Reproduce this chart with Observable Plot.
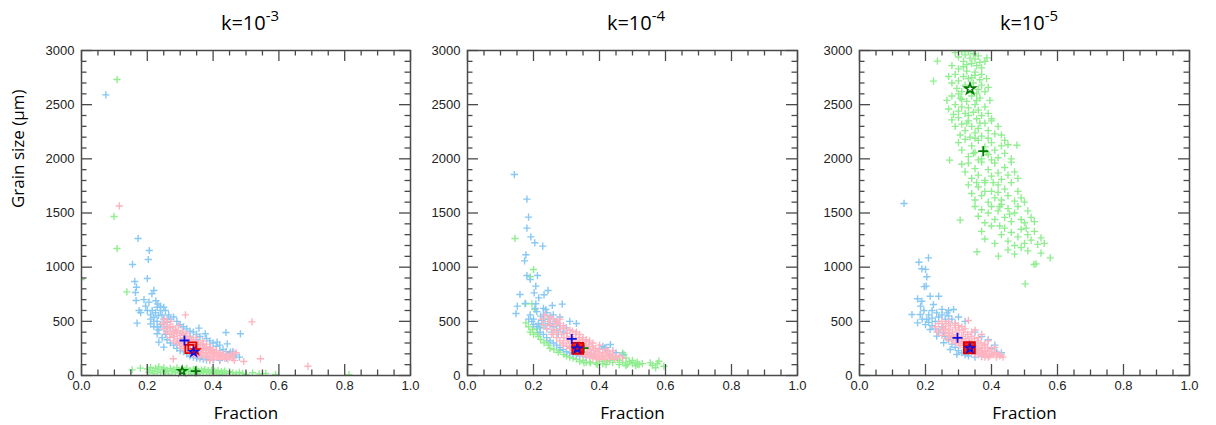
<!DOCTYPE html>
<html><head><meta charset="utf-8">
<script src="https://cdn.jsdelivr.net/npm/d3@7"></script>
<script src="https://cdn.jsdelivr.net/npm/@observablehq/plot@0.6"></script>
<style>
body{margin:0;background:#fff;}
#wrap{position:relative;width:1216px;height:425px;overflow:hidden;background:#fff;}
.panel{position:absolute;top:0;}
.title{position:absolute;top:13px;font-family:"Open Sans",sans-serif;font-size:20px;line-height:20px;color:#000;transform:translateX(-50%);white-space:nowrap;}
.title .sup{font-size:15px;position:relative;top:-9px;}
</style></head><body><div id="wrap"></div>
<script>
// ---- titles / axes ----
const titleBase = ["k=10", "k=10", "k=10"];
const titleExp = ["-3", "-4", "-5"];
const xLabel = "Fraction";
const yLabel = "Grain size (\u00b5m)";
const xTicks = [0, 0.2, 0.4, 0.6, 0.8, 1.0];
const xMinorTicks = [0.05,0.1,0.15,0.25,0.3,0.35,0.45,0.5,0.55,0.65,0.7,0.75,0.85,0.9,0.95];
const yTicks = [0, 500, 1000, 1500, 2000, 2500, 3000];
const yMinorTicks = [100,200,300,400,600,700,800,900,1100,1200,1300,1400,1600,1700,1800,1900,2100,2200,2300,2400,2600,2700,2800,2900];

// ---- panel 1 (k=1e-3) ----
const blue1 = [[0.074,2590],[0.172,1265],[0.206,1154],[0.203,1071],[0.155,1025],[0.20,895],[0.162,868],[0.167,815],[0.164,766],[0.22,785],[0.214,754],[0.166,692],[0.175,600],[0.205,677],[0.20,600],[0.169,483],[0.21,477],[0.23,630],[0.25,630],[0.234,554],[0.22,538],[0.26,523],[0.439,397],[0.483,385],[0.357,437],[0.376,385],[0.412,308],[0.443,292],[0.453,215],[0.235,308],[0.23,385],[0.25,262],
[0.215,600],[0.225,580],[0.24,600],[0.245,560],[0.21,560],[0.23,500],[0.24,470],[0.22,450],[0.25,450],[0.26,490],[0.27,520],[0.235,420],[0.245,350],[0.26,330],[0.255,380],[0.27,300],[0.28,280],[0.29,250],[0.30,230],[0.31,220],[0.32,200],[0.33,180],[0.34,170],[0.35,160],[0.36,155],[0.37,150],[0.38,145],[0.39,150],[0.40,145],[0.42,140],[0.44,160],[0.46,180],[0.45,200],[0.43,240],[0.41,270],[0.40,300],[0.39,320],[0.38,340],[0.36,360],[0.34,400],[0.32,430],[0.30,470],[0.29,500],[0.28,540],[0.265,560],[0.255,600],[0.24,640],[0.232,660],[0.226,690],[0.19,700],[0.195,640],[0.18,580],[0.21,520],[0.27,440],[0.28,360],[0.29,290],[0.30,390],[0.31,340],[0.33,360],[0.35,330],[0.37,290],[0.39,260],[0.42,230],[0.44,220],[0.47,190],[0.48,170],[0.36,180],[0.38,170],
[0.23,450],[0.22,500],[0.25,520],[0.26,410],[0.31,450],[0.33,410],[0.35,380],[0.42,280],[0.46,220]];
const pink1 = [[0.245,480],[0.25,430],[0.252,520],[0.258,390],[0.26,470],[0.262,440],[0.268,350],[0.27,410],[0.272,500],[0.275,380],[0.278,450],[0.28,320],[0.282,360],[0.285,420],[0.288,300],[0.29,390],[0.292,340],[0.295,460],[0.298,280],[0.30,370],[0.302,320],[0.305,250],[0.306,410],[0.31,300],[0.312,350],[0.315,270],[0.318,390],[0.32,230],[0.322,320],[0.325,290],[0.328,360],[0.33,250],[0.332,210],[0.335,330],[0.338,280],[0.34,240],[0.342,300],[0.345,190],[0.348,350],[0.35,260],[0.352,220],[0.355,300],[0.358,180],[0.36,240],[0.362,280],[0.365,200],[0.368,320],[0.37,230],[0.372,170],[0.375,260],[0.378,210],[0.38,290],[0.382,180],[0.385,240],[0.388,200],[0.39,160],[0.392,260],[0.395,220],[0.398,180],[0.40,240],[0.402,150],[0.405,200],[0.41,230],[0.412,170],[0.415,190],[0.42,210],[0.422,150],[0.425,180],[0.43,200],[0.435,160],[0.44,185],[0.445,150],[0.45,170],[0.455,190],[0.46,160],[0.465,140],
[0.30,300],[0.31,270],[0.32,340],[0.33,300],[0.34,320],[0.35,280],[0.36,210],[0.37,280],[0.33,230],[0.31,380],[0.29,410],[0.27,450],[0.34,200],[0.28,400],[0.26,500],[0.32,260],[0.35,240],[0.36,260],[0.38,250],[0.40,210],[0.42,170],[0.44,200],
[0.115,1565],[0.316,560],[0.518,495],[0.463,209],[0.493,129],[0.544,154],[0.688,86],[0.279,154],[0.47,210],[0.39,140]];
const green1 = [[0.108,2732],[0.099,1468],[0.108,1172],[0.138,772],[0.0,885],
[0.154,52],[0.179,68],[0.20,60],[0.205,30],[0.21,75],[0.215,45],[0.22,20],[0.225,65],[0.23,40],[0.235,80],[0.24,25],[0.245,55],[0.25,70],[0.255,35],[0.26,50],[0.265,15],[0.27,65],[0.275,40],[0.28,55],[0.285,25],[0.29,70],[0.295,45],[0.30,30],[0.305,60],[0.31,20],[0.315,50],[0.32,65],[0.325,35],[0.33,45],[0.335,15],[0.34,55],[0.345,30],[0.35,60],[0.355,40],[0.36,20],[0.365,50],[0.37,35],[0.375,55],[0.38,25],[0.385,45],[0.39,30],[0.395,50],[0.40,20],[0.405,40],[0.41,30],[0.415,45],[0.42,15],[0.425,35],[0.43,25],[0.435,40],[0.44,20],[0.45,35],[0.46,25],[0.47,15],[0.48,30],[0.49,20],[0.50,10],[0.52,25],[0.54,15],[0.56,20],[0.59,10],[0.813,8]];

// ---- panel 2 (k=1e-4) ----
const blue2 = [[0.142,1855],[0.18,1628],[0.185,1462],[0.18,1360],[0.192,1280],[0.204,1225],[0.228,1194],[0.177,1114],[0.173,1058],[0.18,923],[0.19,886],[0.212,923],[0.207,825],[0.159,748],[0.202,763],[0.232,745],[0.244,785],[0.151,640],[0.147,572],[0.176,665],[0.216,717],[0.257,646],[0.287,659],[0.207,662],[0.237,609],[0.222,548],[0.252,548],
[0.19,560],[0.20,520],[0.21,590],[0.215,480],[0.22,440],[0.225,510],[0.23,560],[0.235,470],[0.24,430],[0.245,520],[0.25,480],[0.255,400],[0.26,450],[0.265,500],[0.27,420],[0.275,380],[0.28,460],[0.29,400],[0.30,440],[0.23,380],[0.24,350],[0.25,320],[0.26,300],[0.27,280],[0.28,260],[0.29,240],[0.30,220],[0.31,210],[0.32,200],[0.33,190],[0.34,180],[0.36,170],[0.38,180],[0.40,250],[0.41,270],[0.42,260],[0.433,286],[0.416,255],[0.44,230],[0.45,210],[0.43,200],[0.47,190],[0.22,400],[0.21,450],[0.20,470],[0.195,500],[0.185,520],[0.23,620],[0.24,580],[0.205,620],[0.26,560],[0.28,540],[0.31,500],[0.33,480]];
const pink2 = [[0.225,520],[0.23,470],[0.235,560],[0.24,430],[0.245,500],[0.25,460],[0.255,380],[0.26,520],[0.262,420],[0.265,470],[0.27,350],[0.272,400],[0.275,480],[0.28,320],[0.282,430],[0.285,380],[0.29,300],[0.292,350],[0.295,440],[0.30,270],[0.302,390],[0.305,320],[0.31,250],[0.312,360],[0.315,300],[0.318,410],[0.32,230],[0.322,330],[0.325,280],[0.328,380],[0.33,220],[0.332,310],[0.335,260],[0.338,350],[0.34,200],[0.342,290],[0.345,240],[0.348,330],[0.35,190],[0.352,270],[0.355,220],[0.358,310],[0.36,180],[0.362,250],[0.365,210],[0.368,290],[0.37,170],[0.372,240],[0.375,200],[0.378,270],[0.38,160],[0.382,230],[0.385,190],[0.388,250],[0.39,170],[0.392,220],[0.395,150],[0.398,200],[0.40,240],[0.405,170],[0.41,210],[0.415,150],[0.42,190],[0.425,220],[0.43,160],[0.435,180],[0.44,200],[0.445,150],[0.45,170],[0.46,180],[0.47,160],
[0.34,380],[0.36,330],[0.38,300],[0.40,280],[0.31,420],[0.29,460],[0.27,500],[0.25,540],[0.28,520],[0.33,400],[0.35,350],[0.37,320],[0.42,240],[0.44,230],[0.30,350],[0.32,320],[0.34,300],[0.36,270],[0.26,380],[0.29,280],[0.31,260],[0.33,240],[0.35,210],[0.37,190],[0.39,190],[0.41,180],[0.43,190]];
const green2 = [[0.144,1265],[0.2,978],[0.19,911],[0.174,662],[0.195,662],[0.204,609],[0.177,486],[0.19,400],
[0.197,425],[0.212,394],[0.222,332],[0.232,302],[0.245,280],[0.262,240],[0.275,215],[0.292,194],[0.31,170],[0.33,150],[0.35,140],[0.37,125],[0.39,115],[0.41,110],[0.20,380],[0.215,360],[0.24,320],[0.21,430],[0.185,450],[0.225,470],[0.23,520],[0.25,250],[0.28,230],[0.30,180],[0.32,160],[0.34,130],[0.36,120],
[0.353,117],[0.373,117],[0.393,102],[0.423,132],[0.433,178],[0.454,148],[0.474,194],[0.484,102],[0.514,123],[0.554,117],[0.58,132],[0.595,86],[0.57,71],[0.44,120],[0.45,180],[0.46,140],[0.47,120],[0.48,160],[0.49,130],[0.50,110],[0.51,90],[0.52,100],[0.50,140],[0.53,110],[0.42,100],[0.40,130],[0.46,100],[0.48,90],[0.44,160],[0.47,210],[0.50,120],[0.515,105],[0.43,140],[0.41,150],[0.56,95],[0.575,110]];

// ---- panel 3 (k=1e-5) ----
const blue3 = [[0.135,1588],[0.209,1086],[0.18,1046],[0.189,985],[0.204,911],[0.202,825],[0.176,708],[0.189,686],[0.214,732],[0.24,732],[0.224,655],[0.159,563],[0.184,563],[0.176,486],[0.204,517],[0.234,578],[0.265,578],[0.285,609],[0.214,425],[0.234,363],[0.255,302],[0.275,240],[0.295,194],[0.255,394],
[0.185,640],[0.195,600],[0.21,560],[0.22,530],[0.23,500],[0.24,540],[0.25,560],[0.26,520],[0.27,550],[0.28,520],[0.29,480],[0.21,490],[0.22,460],[0.23,430],[0.24,400],[0.25,450],[0.26,360],[0.27,330],[0.28,290],[0.29,260],[0.30,230],[0.31,210],[0.32,190],[0.33,180],[0.35,170],[0.37,175],[0.20,470],[0.19,520],[0.25,610],[0.22,600],[0.27,600],[0.30,540],[0.32,500],[0.35,400],[0.37,360],[0.39,330],[0.41,280],[0.40,250],[0.43,210],[0.416,215],[0.196,820],[0.2,980]];
const pink3 = [[0.23,450],[0.235,400],[0.24,480],[0.245,420],[0.25,370],[0.255,450],[0.26,400],[0.262,480],[0.265,340],[0.27,420],[0.272,370],[0.275,460],[0.28,320],[0.282,400],[0.285,350],[0.29,440],[0.292,300],[0.295,380],[0.30,330],[0.302,420],[0.305,280],[0.31,360],[0.312,310],[0.315,400],[0.32,260],[0.322,340],[0.325,290],[0.328,380],[0.33,240],[0.332,320],[0.335,270],[0.338,360],[0.34,220],[0.342,300],[0.345,250],[0.348,340],[0.35,200],[0.352,280],[0.355,230],[0.358,320],[0.36,190],[0.362,260],[0.365,210],[0.368,300],[0.37,180],[0.372,250],[0.375,200],[0.378,280],[0.38,170],[0.382,230],[0.385,190],[0.388,260],[0.39,170],[0.392,220],[0.395,180],[0.40,240],[0.405,190],[0.41,210],[0.415,170],[0.42,200],[0.425,180],[0.43,190],[0.435,170],
[0.33,508],[0.31,450],[0.29,480],[0.27,500],[0.35,420],[0.37,380],[0.39,320],[0.41,260],[0.36,350],[0.34,400],[0.38,290],[0.32,430],[0.30,460],[0.25,500],[0.28,360],[0.30,300],[0.32,280],[0.34,260],[0.36,240],[0.38,220],[0.40,200],[0.33,300],[0.35,260],[0.37,230],[0.31,330],[0.29,350],[0.27,390],[0.26,430]];
const green3 = [[0.29,2980],[0.30,2940],[0.31,2990],[0.315,2900],[0.32,2960],[0.325,2870],[0.33,2990],[0.335,2930],[0.34,2880],[0.345,2970],[0.35,2920],[0.355,2860],[0.36,2950],[0.365,2890],[0.37,2840],[0.38,2900],[0.236,2902],[0.386,2932],[0.28,2860],[0.30,2830],[0.325,2810],[0.35,2800],[0.37,2780],
[0.27,2760],[0.28,2700],[0.29,2780],[0.295,2650],[0.30,2720],[0.31,2620],[0.315,2760],[0.32,2680],[0.33,2740],[0.34,2610],[0.345,2700],[0.35,2770],[0.36,2640],[0.365,2730],[0.37,2680],[0.38,2620],[0.385,2740],[0.39,2660],[0.224,2717],[0.30,2600],[0.355,2600],
[0.265,2540],[0.27,2460],[0.28,2580],[0.285,2410],[0.29,2500],[0.30,2440],[0.305,2560],[0.31,2480],[0.32,2420],[0.325,2530],[0.33,2470],[0.34,2580],[0.345,2430],[0.35,2500],[0.36,2450],[0.365,2560],[0.37,2400],[0.38,2480],[0.39,2420],[0.40,2370],[0.395,2540],[0.33,2400],
[0.28,2360],[0.29,2300],[0.30,2380],[0.305,2220],[0.31,2320],[0.32,2260],[0.33,2350],[0.335,2200],[0.34,2300],[0.35,2240],[0.355,2370],[0.36,2280],[0.37,2210],[0.38,2330],[0.39,2260],[0.40,2350],[0.41,2230],[0.42,2300],[0.43,2220],[0.477,2126],[0.44,2170],
[0.30,2150],[0.31,2080],[0.32,2180],[0.33,2020],[0.34,2120],[0.35,2060],[0.36,2170],[0.37,2000],[0.38,2110],[0.39,2040],[0.40,2150],[0.41,2080],[0.42,2010],[0.43,2120],[0.44,2050],[0.45,2130],[0.46,2000],[0.35,2190],[0.39,2190],
[0.273,1988],[0.31,1950],[0.32,1880],[0.33,1960],[0.34,1820],[0.35,1910],[0.36,1850],[0.37,1970],[0.38,1800],[0.39,1900],[0.40,1840],[0.41,1960],[0.42,1870],[0.43,1810],[0.44,1920],[0.45,1850],[0.46,1970],[0.47,1880],[0.48,1820],[0.36,1990],[0.40,1990],
[0.33,1760],[0.34,1680],[0.35,1620],[0.36,1740],[0.37,1660],[0.38,1780],[0.39,1600],[0.40,1700],[0.41,1640],[0.42,1760],[0.43,1620],[0.44,1720],[0.45,1660],[0.46,1780],[0.47,1610],[0.48,1700],[0.49,1640],[0.50,1600],[0.38,1700],[0.42,1690],
[0.305,1434],[0.35,1560],[0.36,1470],[0.37,1530],[0.38,1410],[0.39,1500],[0.40,1560],[0.41,1440],[0.42,1520],[0.43,1580],[0.44,1460],[0.45,1540],[0.46,1420],[0.47,1500],[0.48,1560],[0.49,1440],[0.50,1410],[0.51,1520],[0.52,1460],[0.53,1420],
[0.37,1330],[0.38,1260],[0.40,1380],[0.41,1220],[0.43,1300],[0.44,1360],[0.45,1240],[0.46,1320],[0.47,1200],[0.48,1280],[0.49,1350],[0.50,1220],[0.51,1300],[0.52,1250],[0.53,1330],[0.54,1210],[0.55,1270],[0.56,1220],[0.356,1142],[0.421,1102],
[0.45,1160],[0.47,1120],[0.49,1180],[0.51,1150],[0.529,1025],[0.578,1086],[0.502,846],[0.535,1030],[0.55,1130],
[0.315,2850],[0.34,2750],[0.31,2550],[0.355,2540],[0.325,2330],[0.365,2330],[0.345,2050],[0.385,2060],[0.355,1780],[0.405,1780],[0.425,1560],[0.455,1490],[0.425,1380],[0.505,1360]];

// ---- summary markers, one entry list per panel ----
const redSquares = [[[0.328,245],[0.337,268]], [[0.334,251]], [[0.333,256]]];
const redStars = [[[0.347,231]], [[0.336,255]], [[0.333,262]]];
const blueStars = [[[0.341,215]], [[0.332,248]], [[0.335,250]]];
const bluePlus = [[[0.313,323]], [[0.316,338]], [[0.297,348]]];
const greenStars = [[[0.306,40]], [[0.333,246]], [[0.335,2646]]];
const greenPlus = [[[0.347,40]], [[0.352,253]], [[0.375,2071]]];

const blues = [blue1, blue2, blue3], pinks = [pink1, pink2, pink3], greens = [green1, green2, green3];

// ---- layout ----
const panels = [
  {left: 0, width: 420, ml: 81, mr: 10, tx: 250},
  {left: 410, width: 400, ml: 57, mr: 13, tx: 636},
  {left: 810, width: 406, ml: 49, mr: 27, tx: 1029}
];
const MT = 50, MB = 50, H = 425;
const LIGHT_BLUE = "#87c8f5", PINK = "#ffb3c0", LIGHT_GREEN = "#90ee90";
const AXIS = "#4a4a4a";
const plusSym = {draw(ctx, size) { const r = Math.sqrt(size / Math.PI); ctx.moveTo(-r, 0); ctx.lineTo(r, 0); ctx.moveTo(0, -r); ctx.lineTo(0, r); }};

const wrap = document.getElementById("wrap");
panels.forEach((p, i) => {
  const fw = p.width - p.ml - p.mr, fh = H - MT - MB;
  const X = d => d[0], Y = d => d[1];
  const cloud = (data, color) => Plot.dot(data, {x: X, y: Y, symbol: plusSym, r: 3.6, stroke: color, fill: "none", strokeWidth: 1.4, clip: true});
  const marks = [
    cloud(greens[i], LIGHT_GREEN),
    cloud(blues[i], LIGHT_BLUE),
    cloud(pinks[i], PINK),
    Plot.dot(greenStars[i], {x: X, y: Y, symbol: "star", r: i === 2 ? 3.4 : 2.7, stroke: "#007a00", strokeWidth: 1.6, fill: "none"}),
    Plot.dot(greenPlus[i], {x: X, y: Y, symbol: plusSym, r: 5, stroke: "#007a00", strokeWidth: 1.8, fill: "none"}),
    Plot.dot(redSquares[i], {x: X, y: Y, symbol: "square", r: i === 0 ? 4.6 : 6.2, stroke: "#e00000", strokeWidth: 1.8, fill: i === 0 ? "none" : "#e00000", fillOpacity: 0.75}),
    Plot.dot(redStars[i], {x: X, y: Y, symbol: "star", r: 2.7, stroke: "#e00000", strokeWidth: 1.5, fill: "none"}),
    Plot.dot(blueStars[i], {x: X, y: Y, symbol: "star", r: 2.7, stroke: "#1010e0", strokeWidth: 1.5, fill: "none"}),
    Plot.dot(bluePlus[i], {x: X, y: Y, symbol: plusSym, r: 5, stroke: "#1010e0", strokeWidth: 1.8, fill: "none"}),
    // ticks, inward on all four sides
    Plot.tickX(xTicks, {x: d => d, insetTop: fh - 11, stroke: AXIS, strokeWidth: 1.3}),
    Plot.tickX(xMinorTicks, {x: d => d, insetTop: fh - 5.5, stroke: AXIS, strokeWidth: 1.3}),
    Plot.tickX(xTicks, {x: d => d, insetBottom: fh - 11, stroke: AXIS, strokeWidth: 1.3}),
    Plot.tickX(xMinorTicks, {x: d => d, insetBottom: fh - 5.5, stroke: AXIS, strokeWidth: 1.3}),
    Plot.tickY(yTicks, {y: d => d, insetRight: fw - 11, stroke: AXIS, strokeWidth: 1.3}),
    Plot.tickY(yMinorTicks, {y: d => d, insetRight: fw - 5.5, stroke: AXIS, strokeWidth: 1.3}),
    Plot.tickY(yTicks, {y: d => d, insetLeft: fw - 11, stroke: AXIS, strokeWidth: 1.3}),
    Plot.tickY(yMinorTicks, {y: d => d, insetLeft: fw - 5.5, stroke: AXIS, strokeWidth: 1.3}),
    Plot.frame({stroke: AXIS, strokeWidth: 1.5}),
    Plot.axisX(xTicks, {tickSize: 0, tickPadding: 5, tickFormat: d3.format(".1f"), fontSize: 13, fontFamily: "Liberation Sans, Arial, sans-serif", fill: "#222", label: null}),
    Plot.axisY(yTicks, {tickSize: 0, tickPadding: 7, tickFormat: d => String(d), fontSize: 13, fontFamily: "Liberation Sans, Arial, sans-serif", fill: "#222", label: null}),
    Plot.text([xLabel], {frameAnchor: "bottom", dy: 38, fontSize: 17, fontFamily: "Open Sans, sans-serif", fill: "#000", lineAnchor: "middle"})
  ];
  if (i === 0) marks.push(Plot.text([yLabel], {frameAnchor: "left", dx: -63, dy: -5, rotate: -90, fontSize: 17, fontFamily: "Open Sans, sans-serif", fill: "#000", lineAnchor: "middle"}));
  const svg = Plot.plot({
    width: p.width, height: H,
    marginLeft: p.ml, marginRight: p.mr, marginTop: MT, marginBottom: MB,
    x: {domain: [0, 1]}, y: {domain: [0, 3000]},
    style: {background: "transparent", overflow: "visible"},
    marks
  });
  const div = document.createElement("div");
  div.className = "panel";
  div.style.left = p.left + "px";
  div.appendChild(svg);
  wrap.appendChild(div);
  const t = document.createElement("div");
  t.className = "title";
  t.style.left = p.tx + "px";
  t.innerHTML = titleBase[i] + '<span class="sup">' + titleExp[i] + '</span>';
  wrap.appendChild(t);
});
</script></body></html>
